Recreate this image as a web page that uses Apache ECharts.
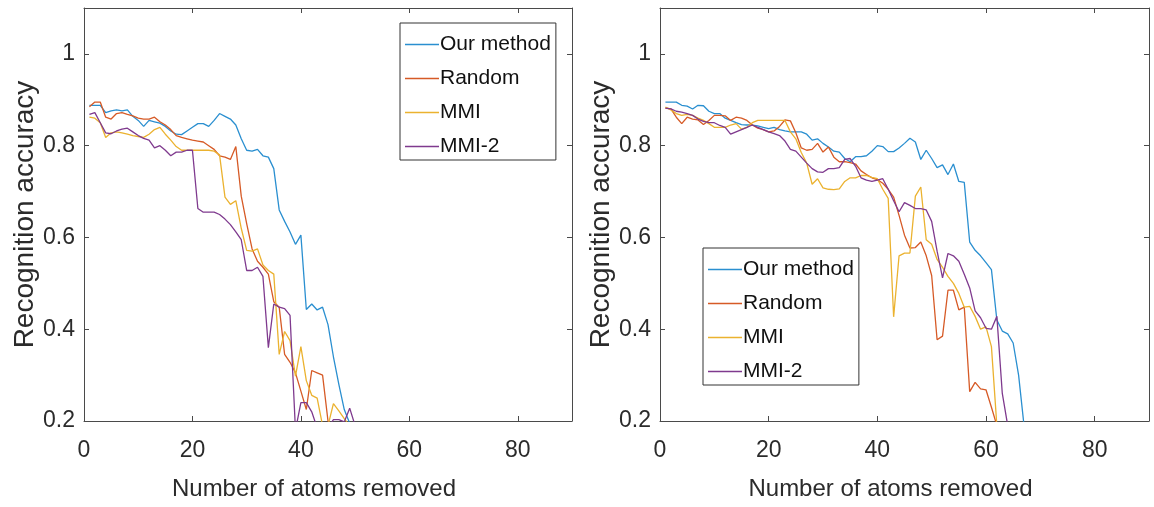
<!DOCTYPE html>
<html>
<head>
<meta charset="utf-8">
<script src="https://cdn.jsdelivr.net/npm/echarts@6/dist/echarts.min.js"></script>
<style>
html,body{margin:0;padding:0;background:#fff;}
#chart{width:1154px;height:507px;}
</style>
</head>
<body>
<div id="chart"></div>
<script>
// ---- data (x = number of atoms removed, starting at 1) ----
const seriesNames = ['Our method', 'Random', 'MMI', 'MMI-2'];
const xTicks = [0, 20, 40, 60, 80];
const yTicks = [0.2, 0.4, 0.6, 0.8, 1];

// Left panel
const leftOurMethod = [0.888,0.888,0.888,0.872,0.876,0.878,0.876,0.878,0.864,0.855,
  0.842,0.855,0.852,0.849,0.842,0.832,0.825,0.824,0.832,0.840,
  0.848,0.848,0.842,0.855,0.870,0.864,0.858,0.845,0.815,0.790,
  0.788,0.792,0.778,0.775,0.750,0.660,0.635,0.612,0.585,0.605,
  0.443,0.455,0.442,0.448,0.410,0.340,0.280,0.225,0.195,0.190];
const leftRandom = [0.885,0.895,0.895,0.862,0.858,0.870,0.872,0.868,0.865,0.860,
  0.858,0.858,0.862,0.852,0.845,0.835,0.822,0.818,0.815,0.812,
  0.810,0.808,0.800,0.792,0.778,0.775,0.770,0.798,0.690,0.630,
  0.575,0.548,0.535,0.520,0.460,0.448,0.345,0.328,0.305,0.265,
  0.225,0.310,0.305,0.300,0.200,0.185];
const leftMMI = [0.862,0.860,0.850,0.818,0.828,0.830,0.828,0.825,0.822,0.820,
  0.818,0.825,0.835,0.840,0.825,0.812,0.798,0.790,0.790,0.790,
  0.790,0.790,0.790,0.788,0.780,0.688,0.672,0.680,0.620,0.572,
  0.570,0.575,0.540,0.528,0.520,0.345,0.395,0.375,0.298,0.362,
  0.288,0.256,0.250,0.190,0.190,0.238,0.222,0.205,0.190,0.190];
const leftMMI2 = [0.868,0.872,0.850,0.828,0.826,0.832,0.836,0.838,0.830,0.822,
  0.816,0.812,0.795,0.800,0.790,0.778,0.786,0.786,0.790,0.790,
  0.663,0.655,0.655,0.655,0.650,0.640,0.628,0.612,0.595,0.528,
  0.528,0.535,0.515,0.360,0.455,0.448,0.445,0.430,0.180,0.240,
  0.240,0.220,0.185,0.185,0.185,0.203,0.203,0.198,0.228,0.190];

// Right panel
const rightOurMethod = [0.895,0.895,0.895,0.888,0.886,0.880,0.888,0.887,0.875,0.870,
  0.870,0.860,0.855,0.850,0.846,0.845,0.845,0.843,0.840,0.837,
  0.840,0.835,0.832,0.830,0.830,0.830,0.825,0.812,0.815,0.805,
  0.797,0.788,0.786,0.772,0.765,0.776,0.776,0.778,0.788,0.800,
  0.798,0.787,0.787,0.795,0.805,0.816,0.808,0.770,0.790,0.772,
  0.752,0.758,0.737,0.760,0.722,0.720,0.590,0.572,0.560,0.545,
  0.530,0.420,0.396,0.390,0.370,0.300,0.190];
const rightRandom = [0.882,0.880,0.862,0.848,0.862,0.858,0.856,0.846,0.855,0.866,
  0.866,0.865,0.855,0.862,0.860,0.855,0.845,0.838,0.835,0.830,
  0.832,0.842,0.856,0.854,0.828,0.795,0.790,0.792,0.805,0.786,
  0.797,0.775,0.765,0.765,0.763,0.760,0.745,0.737,0.730,0.726,
  0.718,0.705,0.688,0.648,0.605,0.577,0.578,0.590,0.560,0.517,
  0.377,0.385,0.485,0.485,0.442,0.448,0.264,0.284,0.270,0.268,
  0.230,0.190];
const rightMMI = [0.884,0.878,0.870,0.866,0.868,0.866,0.860,0.855,0.848,0.840,
  0.840,0.840,0.845,0.848,0.836,0.840,0.850,0.855,0.855,0.855,
  0.855,0.855,0.855,0.830,0.815,0.785,0.762,0.716,0.728,0.708,
  0.705,0.704,0.706,0.722,0.730,0.730,0.735,0.735,0.731,0.728,
  0.705,0.685,0.427,0.560,0.566,0.566,0.690,0.710,0.595,0.585,
  0.552,0.535,0.515,0.500,0.478,0.448,0.450,0.428,0.400,0.405,
  0.362,0.190];
const rightMMI2 = [0.882,0.880,0.875,0.873,0.870,0.866,0.858,0.853,0.850,0.850,
  0.844,0.840,0.825,0.830,0.835,0.840,0.845,0.840,0.835,0.830,
  0.826,0.822,0.810,0.792,0.788,0.775,0.762,0.750,0.743,0.742,
  0.750,0.750,0.752,0.770,0.772,0.755,0.730,0.725,0.722,0.725,
  0.728,0.705,0.680,0.656,0.676,0.670,0.663,0.663,0.660,0.635,
  0.570,0.512,0.565,0.560,0.548,0.520,0.490,0.440,0.425,0.402,
  0.400,0.428,0.260,0.190];

const colors = ['#2a8fd0', '#d65a26', '#ebb22f', '#7f3a8e'];
const FONT = '"Liberation Sans", Arial, Helvetica, sans-serif';
const AXIS_COLOR = '#4a4a4a';
const TEXT_COLOR = '#2b2b2b';

function toPairs(arr) { return arr.map((v, i) => [i + 1, v]); }

function xAxisDef(gridIndex, isTop) {
  return {
    type: 'value', gridIndex: gridIndex, position: isTop ? 'top' : 'bottom',
    min: 0, max: 90, interval: 20,
    name: isTop ? '' : 'Number of atoms removed',
    nameLocation: 'middle', nameGap: 56,
    nameTextStyle: { fontFamily: FONT, fontSize: 24, color: TEXT_COLOR, padding: [0, 28, 0, 0] },
    axisLine: { show: true, onZero: false, lineStyle: { color: AXIS_COLOR, width: 1 } },
    axisTick: { show: true, inside: true, length: 5, lineStyle: { color: AXIS_COLOR } },
    axisLabel: {
      show: !isTop, margin: 18, fontFamily: FONT, fontSize: 23, color: TEXT_COLOR,
      showMaxLabel: false,
      formatter: v => (xTicks.indexOf(v) >= 0 ? String(v) : '')
    },
    splitLine: { show: false }
  };
}
function yAxisDef(gridIndex, isRight) {
  return {
    type: 'value', gridIndex: gridIndex, position: isRight ? 'right' : 'left',
    min: 0.2, max: 1.1, interval: 0.2,
    name: isRight ? '' : 'Recognition accuracy',
    nameLocation: 'middle', nameGap: 44, nameRotate: 90,
    nameTextStyle: { fontFamily: FONT, fontSize: 28, color: TEXT_COLOR },
    axisLine: { show: true, onZero: false, lineStyle: { color: AXIS_COLOR, width: 1 } },
    axisTick: { show: true, inside: true, length: 5, lineStyle: { color: AXIS_COLOR } },
    axisLabel: {
      show: !isRight, margin: 9, fontFamily: FONT, fontSize: 23, color: TEXT_COLOR,
      showMaxLabel: false,
      formatter: v => {
        const hit = yTicks.find(t => Math.abs(v - t) < 1e-6);
        return hit === undefined ? '' : (hit === 1 ? '1' : hit.toFixed(1));
      }
    },
    splitLine: { show: false }
  };
}

const leftData = [leftOurMethod, leftRandom, leftMMI, leftMMI2];
const rightData = [rightOurMethod, rightRandom, rightMMI, rightMMI2];

const series = [];
[leftData, rightData].forEach((set, panel) => {
  set.forEach((arr, k) => {
    series.push({
      type: 'line', name: seriesNames[k],
      xAxisIndex: panel * 2, yAxisIndex: panel * 2,
      data: toPairs(arr), symbol: 'none', showSymbol: false, clip: true, animation: false,
      lineStyle: { color: colors[k], width: 1.3 },
      itemStyle: { color: colors[k] }
    });
  });
});

function legendDef(left, top) {
  return {
    data: seriesNames.map(n => ({ name: n, icon: 'rect' })),
    orient: 'vertical', left: left, top: top,
    itemWidth: 34, itemHeight: 1.4, itemGap: 13,
    padding: [11, 5, 3, 5],
    borderColor: '#333', borderWidth: 1, backgroundColor: '#fff',
    textStyle: { fontFamily: FONT, fontSize: 21, color: '#111', lineHeight: 21, padding: [0, 0, 0, -4] },
    selectedMode: false
  };
}

const chart = echarts.init(document.getElementById('chart'), null, { renderer: 'canvas' });
chart.setOption({
  backgroundColor: '#ffffff',
  animation: false,
  grid: [
    { left: 84, top: 8, width: 488, height: 413 },
    { left: 660, top: 8, width: 489, height: 413 }
  ],
  xAxis: [xAxisDef(0, false), xAxisDef(0, true), xAxisDef(1, false), xAxisDef(1, true)],
  yAxis: [yAxisDef(0, false), yAxisDef(0, true), yAxisDef(1, false), yAxisDef(1, true)],
  legend: [legendDef(400, 23), legendDef(703, 248)],
  series: series
});
</script>
</body>
</html>
